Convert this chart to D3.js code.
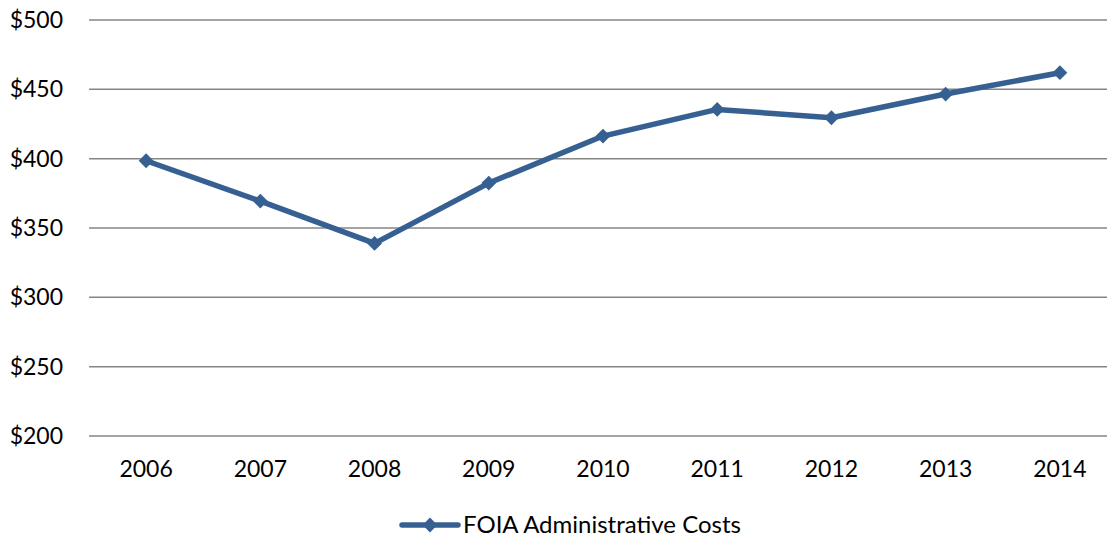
<!DOCTYPE html>
<html>
<head>
<meta charset="utf-8">
<script src="https://cdn.jsdelivr.net/npm/d3@7"></script>
<style>
  body { margin: 0; background: #fff; }
  svg text { font-family: Lato, "Open Sans", sans-serif; fill: #000; }
</style>
</head>
<body>
<svg id="chart" width="1107" height="540"></svg>
<script>
// data
const years  = ["2006", "2007", "2008", "2009", "2010", "2011", "2012", "2013", "2014"];
const costs  = [398.5, 369.4, 338.9, 382.4, 416.3, 435.5, 429.5, 446.6, 462];
const yTicks = [200, 250, 300, 350, 400, 450, 500];
const seriesName = "FOIA Administrative Costs";

const svg = d3.select("#chart");

// plot area
const plotLeft = 89, plotRight = 1117, plotTop = 20, plotBottom = 436;
const lineColour = "#376092";

const x = d3.scaleBand()
    .domain(years)
    .range([plotLeft, plotRight]);

const y = d3.scaleLinear()
    .domain([200, 500])
    .range([plotBottom, plotTop]);

// horizontal gridlines
svg.append("g")
    .selectAll("line")
    .data(yTicks)
    .join("line")
    .attr("x1", plotLeft)
    .attr("x2", plotRight)
    .attr("y1", d => y(d))
    .attr("y2", d => y(d))
    .attr("stroke", "#868686")
    .attr("stroke-width", 1.5);

// y labels
svg.append("g")
    .selectAll("text")
    .data(yTicks)
    .join("text")
    .attr("x", 63)
    .attr("y", d => y(d))
    .attr("dy", "0.35em")
    .attr("text-anchor", "end")
    .attr("font-size", "23px")
    .text(d => "$" + d);

// x labels
svg.append("g")
    .selectAll("text")
    .data(years)
    .join("text")
    .attr("x", d => x(d) + x.bandwidth() / 2)
    .attr("y", 477)
    .attr("text-anchor", "middle")
    .attr("font-size", "23px")
    .text(d => d);

// the line
const line = d3.line()
    .x((d, i) => x(years[i]) + x.bandwidth() / 2)
    .y(d => y(d));

svg.append("path")
    .datum(costs)
    .attr("d", line)
    .attr("fill", "none")
    .attr("stroke", lineColour)
    .attr("stroke-width", 5.5)
    .attr("stroke-linejoin", "round");

// diamond markers
const diamond = d3.symbol().type(d3.symbolSquare).size(110);
svg.append("g")
    .selectAll("path")
    .data(costs)
    .join("path")
    .attr("transform", (d, i) => `translate(${x(years[i]) + x.bandwidth() / 2},${y(d)}) rotate(45)`)
    .attr("d", diamond)
    .attr("fill", lineColour);

// legend
const lg = svg.append("g");
lg.append("line")
    .attr("x1", 402).attr("x2", 458)
    .attr("y1", 525).attr("y2", 525)
    .attr("stroke", lineColour)
    .attr("stroke-width", 5.5)
    .attr("stroke-linecap", "round");
lg.append("path")
    .attr("transform", "translate(430,525) rotate(45)")
    .attr("d", diamond)
    .attr("fill", lineColour);
lg.append("text")
    .attr("x", 463)
    .attr("y", 525)
    .attr("dy", "0.35em")
    .attr("font-size", "24px")
    .text(seriesName);
</script>
</body>
</html>
